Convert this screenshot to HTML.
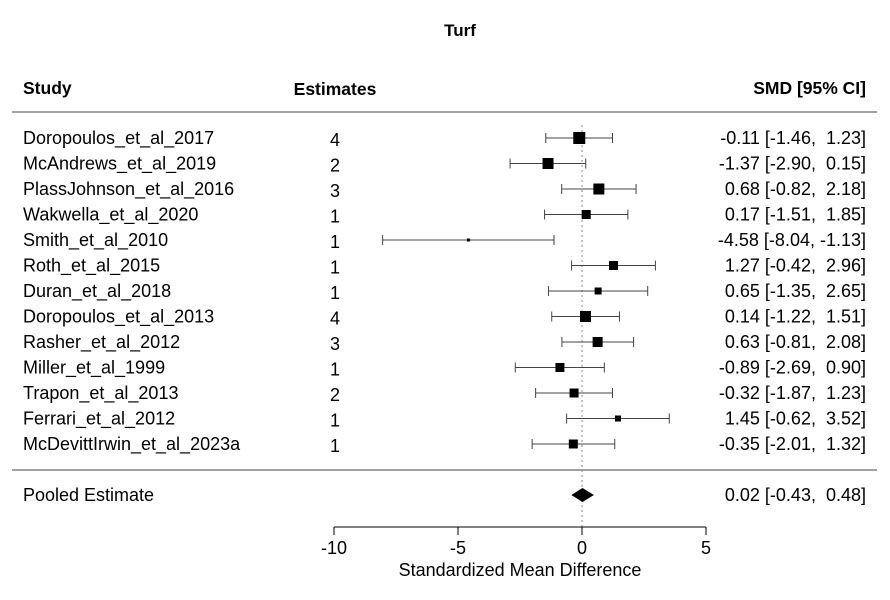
<!DOCTYPE html>
<html><head><meta charset="utf-8"><style>
body{margin:0;background:#fff}
svg{display:block;font-family:"Liberation Sans",Arial,sans-serif}
</style></head><body>
<svg id="c" width="890" height="600">
<text x="460" y="36" text-anchor="middle" font-weight="bold" font-size="17">Turf</text>
<text x="23" y="94" font-weight="bold" font-size="17.5">Study</text>
<text x="335" y="95" text-anchor="middle" font-weight="bold" font-size="17.5">Estimates</text>
<text x="866" y="94" text-anchor="end" font-weight="bold" font-size="17.5">SMD [95% CI]</text>
<line x1="12" x2="877" y1="112" y2="112" stroke="#000" stroke-width="0.8"/>
<line x1="12" x2="877" y1="470" y2="470" stroke="#000" stroke-width="0.8"/>
<g id="marks"></g>
<g id="axis"></g>
<text x="520" y="576" text-anchor="middle" font-size="18">Standardized Mean Difference</text>
</svg>
<script>
const studies=["Doropoulos_et_al_2017","McAndrews_et_al_2019","PlassJohnson_et_al_2016","Wakwella_et_al_2020","Smith_et_al_2010","Roth_et_al_2015","Duran_et_al_2018","Doropoulos_et_al_2013","Rasher_et_al_2012","Miller_et_al_1999","Trapon_et_al_2013","Ferrari_et_al_2012","McDevittIrwin_et_al_2023a"];
const counts=[4,2,3,1,1,1,1,4,3,1,2,1,1];
const est=[-0.11,-1.37,0.68,0.17,-4.58,1.27,0.65,0.14,0.63,-0.89,-0.32,1.45,-0.35];
const lo=[-1.46,-2.90,-0.82,-1.51,-8.04,-0.42,-1.35,-1.22,-0.81,-2.69,-1.87,-0.62,-2.01];
const hi=[1.23,0.15,2.18,1.85,-1.13,2.96,2.65,1.51,2.08,0.90,1.23,3.52,1.32];
const weights=[12,11,11,9,3,9,7,11,10,9,9,6,9];
const pooled=[0.02,-0.43,0.48];
const ticks=[-10,-5,0,5];
const NS="http://www.w3.org/2000/svg";
const x=v=>582+v*24.8;
const y=i=>138+i*25.5;
const g=document.getElementById('marks');
function mk(t,a,p){const e=document.createElementNS(NS,t);for(const k in a)e.setAttribute(k,a[k]);(p||g).appendChild(e);return e;}
const f=v=>(v<0?"-":" ")+Math.abs(v).toFixed(2);
let ref=mk('line',{x1:x(0),x2:x(0),y1:125,y2:527,stroke:'#888','stroke-dasharray':'2,3'});


studies.forEach((s,i)=>{
 const yy=y(i);
 let t=mk('text',{x:23,y:yy+6,'font-size':18});t.textContent=s;
 
 
 let c=mk('text',{x:335,y:yy+8,'font-size':18,'text-anchor':'middle'});c.textContent=counts[i];
 
 
 let ci=mk('path',{d:`M${x(lo[i])},${yy}H${x(hi[i])}M${x(lo[i])},${yy-5}V${yy+5}M${x(hi[i])},${yy-5}V${yy+5}`,stroke:'#444','stroke-width':1,fill:'none'});
 
 
 const w=weights[i];
 let r=mk('rect',{x:x(est[i])-w/2,y:yy-w/2,width:w,height:w,fill:'#000'});
 
 
 let v=mk('text',{x:866,y:yy+6,'font-size':18,'text-anchor':'end'});
 v.textContent=`${f(est[i])} [${f(lo[i])}, ${f(hi[i])}]`.replace("[ ","[");
 v.style.whiteSpace='pre';
 
 
});
const py=495;
let pl=mk('text',{x:23,y:py+6,'font-size':18});pl.textContent='Pooled Estimate';


let d=mk('polygon',{points:`${x(pooled[1])},${py} ${x(pooled[0])},${py-7} ${x(pooled[2])},${py} ${x(pooled[0])},${py+7}`,fill:'#000'});


let pv=mk('text',{x:866,y:py+6,'font-size':18,'text-anchor':'end'});
pv.textContent=`${f(pooled[0])} [${f(pooled[1])}, ${f(pooled[2])}]`.replace("[ ","[");
pv.style.whiteSpace='pre';


const ax=document.getElementById('axis');
let al=mk('line',{x1:x(ticks[0]),x2:x(ticks[ticks.length-1]),y1:527,y2:527,stroke:'#000'},ax);


ticks.forEach(t=>{
 let l=mk('line',{x1:x(t),x2:x(t),y1:527,y2:535,stroke:'#000'},ax);
 
 
 let tx=mk('text',{x:x(t),y:554,'font-size':18,'text-anchor':'middle'},ax);tx.textContent=t;
 
 
});
</script>
</body></html>
